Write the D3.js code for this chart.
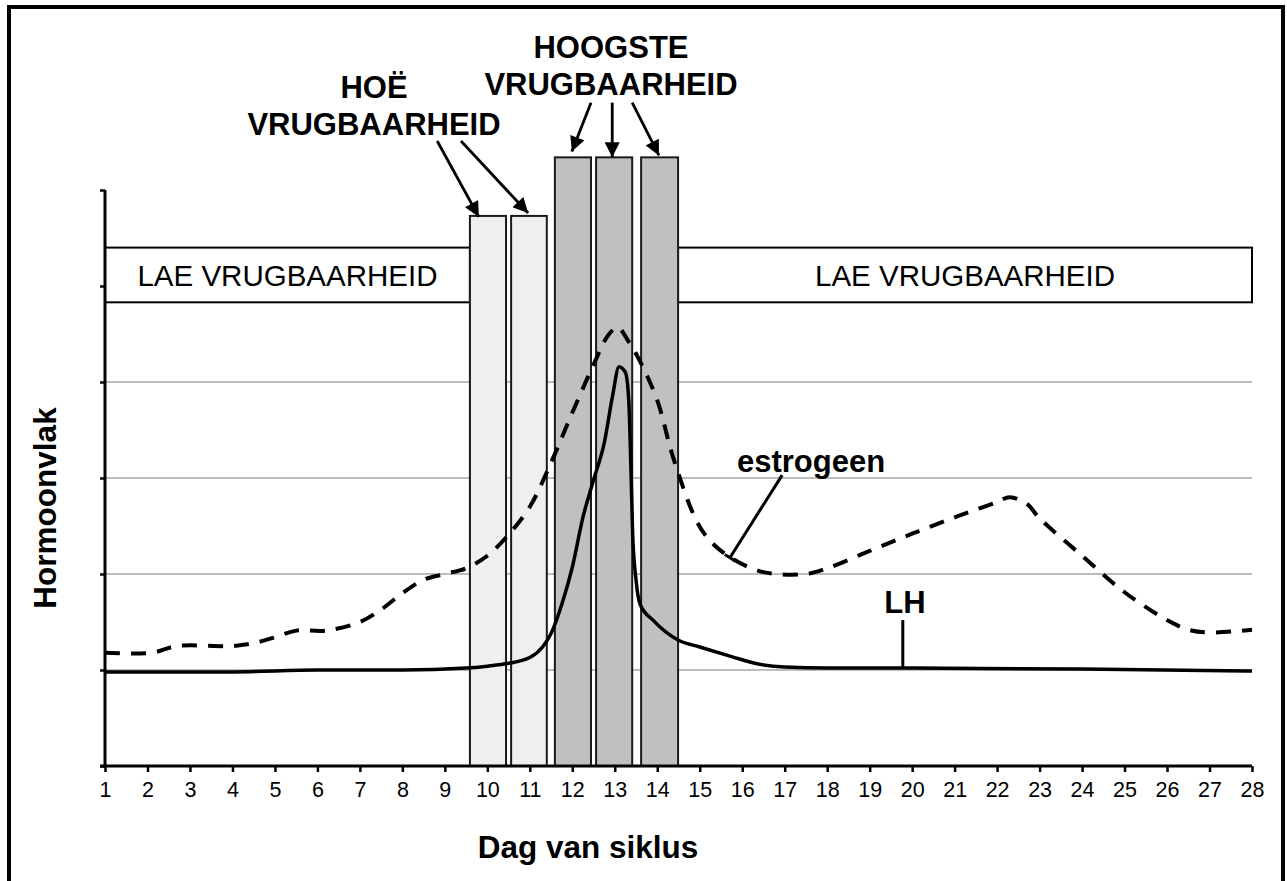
<!DOCTYPE html>
<html>
<head>
<meta charset="utf-8">
<script src="https://cdn.jsdelivr.net/npm/d3@7"></script>
<style>
  html, body { margin: 0; padding: 0; background: #fff; }
  svg { display: block; font-family: "Liberation Sans", Arial, sans-serif; }
</style>
</head>
<body>
<svg id="chart" width="1287" height="881"></svg>
<script>
// ---------- DATA ----------
const dayTicks = d3.range(1, 29);
const levelTicks = [0, 1, 2, 3, 4, 5, 6];
const gridLevels = [1, 2, 3, 4];

const estrogenDays = [1, 2.1, 2.7, 4, 4.5, 5, 5.5, 6.2, 7, 7.5, 8, 8.5, 9, 9.5, 10, 10.5, 11, 11.5, 12, 12.5, 12.85, 13.07, 13.3, 13.6, 14, 14.37, 14.94, 15.3, 15.8, 16.5, 17.5, 18, 19, 20, 21, 21.5, 22, 22.3, 22.7, 23, 24, 25, 26, 26.5, 27, 28];
const estrogenLevels = [1.18, 1.18, 1.25, 1.25, 1.28, 1.34, 1.41, 1.41, 1.5, 1.63, 1.8, 1.94, 2.0, 2.06, 2.19, 2.41, 2.7, 3.16, 3.68, 4.18, 4.49, 4.57, 4.44, 4.21, 3.81, 3.22, 2.54, 2.32, 2.15, 2.02, 2.0, 2.06, 2.24, 2.42, 2.59, 2.67, 2.75, 2.8, 2.73, 2.58, 2.19, 1.81, 1.52, 1.42, 1.39, 1.42];

const lhDays = [1, 4, 6, 8, 9.5, 10, 10.5, 11, 11.3, 11.5, 11.75, 12, 12.25, 12.5, 12.75, 12.95, 13.1, 13.25, 13.33, 13.38, 13.42, 13.5, 13.6, 13.9, 14.5, 15, 15.75, 16.3, 17, 18, 20, 24, 28];
const lhLevels = [0.98, 0.98, 1.0, 1.0, 1.02, 1.04, 1.07, 1.13, 1.24, 1.38, 1.68, 2.07, 2.59, 2.98, 3.36, 3.86, 4.16, 4.1, 3.8, 3.1, 2.43, 1.94, 1.68, 1.52, 1.31, 1.24, 1.14, 1.07, 1.03, 1.02, 1.02, 1.01, 0.99];

// fertile-window bars: day spans and heights
const barStart = [9.59, 10.56, 11.59, 12.56, 13.62];
const barEnd   = [10.44, 11.40, 12.44, 13.41, 14.49];
const barLevel = [5.73, 5.73, 6.34, 6.34, 6.34];
const barKind  = ["hoe", "hoe", "hoogste", "hoogste", "hoogste"];

// low-fertility bands: [startDay, endDay]
const lowBandStart = [1, 14.49];
const lowBandEnd   = [9.59, 28];
const lowBandTop = 5.4, lowBandBottom = 4.83;
const lowBandLabel = "LAE VRUGBAARHEID";

// arrows: [fromDay, fromLevel, toDay, toLevel]
const arrowsHoe = [[8.82, 6.51, 9.80, 5.72], [9.38, 6.51, 10.96, 5.76]];
const arrowsHoogste = [[12.44, 6.91, 11.99, 6.40], [12.94, 6.91, 12.94, 6.34], [13.41, 6.91, 14.04, 6.36]];

const estrogenLeader = [16.94, 3.03, 15.71, 2.17];
const lhLeader = [19.78, 1.52, 19.78, 1.02];

// ---------- LAYOUT ----------
const svg = d3.select("#chart");
const x = d3.scaleLinear().domain([1, 28]).range([105, 1252]);
const y = d3.scaleLinear().domain([0, 6]).range([766, 190]);

// outer frame
svg.append("rect").attr("x", 9).attr("y", 7).attr("width", 1274).attr("height", 900)
  .attr("fill", "none").attr("stroke", "#000").attr("stroke-width", 4);

// gridlines
svg.append("g").selectAll("line").data(gridLevels).join("line")
  .attr("x1", x(1)).attr("x2", x(28))
  .attr("y1", d => y(d)).attr("y2", d => y(d))
  .attr("stroke", "#a6a6a6").attr("stroke-width", 1.5);

// low fertility bands
const bands = svg.append("g");
lowBandStart.forEach((s, i) => {
  bands.append("rect")
    .attr("x", x(s)).attr("y", y(lowBandTop))
    .attr("width", x(lowBandEnd[i]) - x(s)).attr("height", y(lowBandBottom) - y(lowBandTop))
    .attr("fill", "#fff").attr("stroke", "#000").attr("stroke-width", 2);
  bands.append("text")
    .attr("x", (x(s) + x(lowBandEnd[i])) / 2).attr("y", (y(lowBandTop) + y(lowBandBottom)) / 2 + 11)
    .attr("text-anchor", "middle").attr("font-size", 29.5).attr("fill", "#000")
    .text(lowBandLabel);
});

// fertility bars
svg.append("g").selectAll("rect").data(barStart).join("rect")
  .attr("x", (d) => x(d))
  .attr("y", (d, i) => y(barLevel[i]))
  .attr("width", (d, i) => x(barEnd[i]) - x(d))
  .attr("height", (d, i) => y(0) - y(barLevel[i]))
  .attr("fill", (d, i) => barKind[i] === "hoe" ? "#efefef" : "#c0c0c0")
  .attr("stroke", "#1a1a1a").attr("stroke-width", 2);

// curves
const estLine = d3.line().x((d, i) => x(estrogenDays[i])).y(d => y(d)).curve(d3.curveCatmullRom.alpha(0.5));
const lhLine = d3.line().x((d, i) => x(lhDays[i])).y(d => y(d)).curve(d3.curveMonotoneX);

svg.append("path").datum(estrogenLevels).attr("d", estLine)
  .attr("fill", "none").attr("stroke", "#000").attr("stroke-width", 4)
  .attr("stroke-dasharray", "15,11");
svg.append("path").datum(lhLevels).attr("d", lhLine)
  .attr("fill", "none").attr("stroke", "#000").attr("stroke-width", 3.5)
  .attr("stroke-linejoin", "round");

// axes
const xAxis = svg.append("g").attr("transform", `translate(0,${y(0)})`)
  .call(d3.axisBottom(x).tickValues(dayTicks).tickSize(6).tickPadding(10).tickFormat(d3.format("d")));
xAxis.select(".domain").attr("stroke", "#000").attr("stroke-width", 3)
  .attr("d", `M${x(1) - 5},0H${x(28)}`);
xAxis.selectAll(".tick line").attr("stroke", "#000").attr("stroke-width", 2.5);
xAxis.selectAll(".tick text").attr("font-size", 21.5).attr("fill", "#000")
  .attr("font-family", "Liberation Sans, Arial, sans-serif").attr("dy", "0.72em");

const yAxis = svg.append("g").attr("transform", `translate(${x(1)},0)`)
  .call(d3.axisLeft(y).tickValues(levelTicks).tickSize(5).tickFormat(""));
yAxis.select(".domain").attr("stroke", "#000").attr("stroke-width", 3)
  .attr("d", `M0,${y(6)}V${y(0)}`);
yAxis.selectAll(".tick line").attr("stroke", "#000").attr("stroke-width", 2.5);

// arrow marker
const defs = svg.append("defs");
defs.append("marker").attr("id", "ah").attr("viewBox", "0 0 10 10")
  .attr("refX", 10).attr("refY", 5).attr("markerWidth", 16).attr("markerHeight", 15)
  .attr("markerUnits", "userSpaceOnUse").attr("orient", "auto")
  .append("path").attr("d", "M0,0L10,5L0,10z").attr("fill", "#000");

const arrowG = svg.append("g");
[...arrowsHoe, ...arrowsHoogste].forEach(a => {
  arrowG.append("line")
    .attr("x1", x(a[0])).attr("y1", y(a[1]))
    .attr("x2", x(a[2])).attr("y2", y(a[3]))
    .attr("stroke", "#000").attr("stroke-width", 2.8).attr("marker-end", "url(#ah)");
});

// titles
const bold = (sel) => sel.attr("font-weight", "bold").attr("fill", "#000");
const titleHoe = svg.append("text").attr("text-anchor", "middle").attr("font-size", 31).call(bold);
titleHoe.append("tspan").attr("x", 374).attr("y", 98).text("HOË");
titleHoe.append("tspan").attr("x", 374).attr("y", 135).text("VRUGBAARHEID");

const titleHoog = svg.append("text").attr("text-anchor", "middle").attr("font-size", 31).call(bold);
titleHoog.append("tspan").attr("x", 611).attr("y", 58).text("HOOGSTE");
titleHoog.append("tspan").attr("x", 611).attr("y", 95).text("VRUGBAARHEID");

// series labels with leaders
svg.append("line")
  .attr("x1", x(estrogenLeader[0])).attr("y1", y(estrogenLeader[1]))
  .attr("x2", x(estrogenLeader[2])).attr("y2", y(estrogenLeader[3]))
  .attr("stroke", "#000").attr("stroke-width", 3);
{
  const ex = x(estrogenLeader[2]), ey = y(estrogenLeader[3]);
  const dx = x(estrogenLeader[0]) - ex, dy = y(estrogenLeader[1]) - ey;
  const len = Math.hypot(dx, dy), px = -dy / len * 6, py = dx / len * 6;
  svg.append("line").attr("x1", ex - px).attr("y1", ey - py).attr("x2", ex + px).attr("y2", ey + py)
    .attr("stroke", "#000").attr("stroke-width", 3);
}
svg.append("text").attr("x", 811).attr("y", 472).attr("text-anchor", "middle")
  .attr("font-size", 31).call(bold).text("estrogeen");

svg.append("line")
  .attr("x1", x(lhLeader[0])).attr("y1", y(lhLeader[1]))
  .attr("x2", x(lhLeader[2])).attr("y2", y(lhLeader[3]))
  .attr("stroke", "#000").attr("stroke-width", 3);
svg.append("text").attr("x", 905).attr("y", 613).attr("text-anchor", "middle")
  .attr("font-size", 31).call(bold).text("LH");

// axis titles
svg.append("text").attr("x", 588).attr("y", 858).attr("text-anchor", "middle")
  .attr("font-size", 31.5).call(bold).text("Dag van siklus");
svg.append("text").attr("transform", "translate(56,508) rotate(-90)").attr("text-anchor", "middle")
  .attr("font-size", 31.5).call(bold).text("Hormoonvlak");
</script>
</body>
</html>
